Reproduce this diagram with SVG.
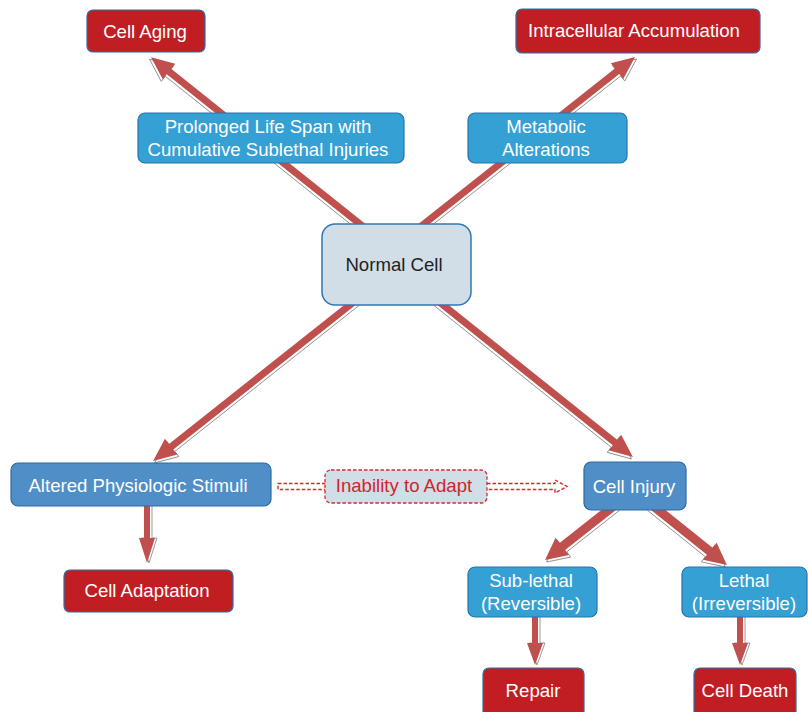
<svg xmlns="http://www.w3.org/2000/svg" xmlns:xlink="http://www.w3.org/1999/xlink" width="808" height="712" viewBox="0 0 808 712">
  <style>
    text { font-family: "Liberation Sans", Arial, sans-serif; font-size: 18.6px; text-anchor: middle; fill: #ffffff; }
    .red { fill: #c11e24; stroke: #2e6ea6; stroke-width: 1.2; }
    .cyan { fill: #35a0d3; stroke: #2674ad; stroke-width: 1.2; }
    .steel { fill: #4f8ec6; stroke: #2d6aa3; stroke-width: 1.2; }
    .pale { fill: #d1dee7; stroke: #2e78b5; stroke-width: 1.5; }
    .dark { fill: #222222; }
    .warn { fill: #d0262b; }
    .arrow { fill: #c0504d; }
    .sh { fill: #ffffff; stroke: #8f8f8f; stroke-width: 0.9; }
    .dash { fill: #ffffff; stroke: #d42a2f; stroke-width: 1.4; stroke-dasharray: 3.5 2; }
    .dashbox { fill: #d1dee7; stroke: #d42a2f; stroke-width: 1.3; stroke-dasharray: 3.5 2; }
  </style>
  <defs>
    <!-- block arrows laid out along +x, tip at x = length -->
    <path id="a1" d="M0,-3.5 H270 V-10 L293,0 L270,10 V3.5 H0 Z" transform="translate(380,240) rotate(218.6)"/>
    <path id="a2" d="M0,-3.5 H264 V-10 L287,0 L264,10 V3.5 H0 Z" transform="translate(410,235) rotate(-38.35)"/>
    <path id="a3" d="M0,-3.5 H241 V-10 L264,0 L241,10 V3.5 H0 Z" transform="translate(360,297) rotate(141.6)"/>
    <path id="a4" d="M0,-3.5 H233 V-10 L256,0 L233,10 V3.5 H0 Z" transform="translate(433,297) rotate(38.66)"/>
    <path id="a5" d="M0,-3 H38 V-8 L63,0 L38,8 V3 H0 Z" transform="translate(147,500) rotate(90)"/>
    <path id="a6" d="M0,-4.5 H67 V-11 L89,0 L67,11 V4.5 H0 Z" transform="translate(615,505) rotate(141.8)"/>
    <path id="a7" d="M0,-4.5 H74 V-11 L96,0 L74,11 V4.5 H0 Z" transform="translate(652,505) rotate(38.7)"/>
    <path id="a8" d="M0,-3 H31 V-8 L53,0 L31,8 V3 H0 Z" transform="translate(535,612) rotate(90)"/>
    <path id="a9" d="M0,-3 H31 V-8 L53,0 L31,8 V3 H0 Z" transform="translate(740,612) rotate(90)"/>
  </defs>

  <g id="connectors">
    <use xlink:href="#a1" class="sh" transform="translate(-1.5,2)"/>
    <use xlink:href="#a1" class="arrow"/>
    <use xlink:href="#a2" class="sh" transform="translate(1.5,2)"/>
    <use xlink:href="#a2" class="arrow"/>
    <use xlink:href="#a3" class="sh" transform="translate(1.5,2)"/>
    <use xlink:href="#a3" class="arrow"/>
    <use xlink:href="#a4" class="sh" transform="translate(-1.5,2)"/>
    <use xlink:href="#a4" class="arrow"/>
    <use xlink:href="#a5" class="sh" transform="translate(2,0)"/>
    <use xlink:href="#a5" class="arrow"/>
    <use xlink:href="#a6" class="sh" transform="translate(1.5,2)"/>
    <use xlink:href="#a6" class="arrow"/>
    <use xlink:href="#a7" class="sh" transform="translate(-1.5,2)"/>
    <use xlink:href="#a7" class="arrow"/>
    <use xlink:href="#a8" class="sh" transform="translate(2,0)"/>
    <use xlink:href="#a8" class="arrow"/>
    <use xlink:href="#a9" class="sh" transform="translate(2,0)"/>
    <use xlink:href="#a9" class="arrow"/>
    <!-- hollow dashed arrow: Altered Physiologic Stimuli to Cell Injury -->
    <path class="dash" d="M278,483.5 H555 V480 L567,486.5 L555,493 V489.5 H278 Z"/>
  </g>

  <g id="cell-aging">
    <rect class="red" x="87" y="10" width="118" height="42" rx="6"/>
    <text x="145" y="38">Cell Aging</text>
  </g>
  <g id="intracellular-accumulation">
    <rect class="red" x="516" y="9" width="244" height="44" rx="6"/>
    <text x="634" y="37">Intracellular Accumulation</text>
  </g>
  <g id="prolonged-life-span">
    <rect class="cyan" x="138" y="113" width="266" height="50" rx="7"/>
    <text x="268" y="133">Prolonged Life Span with</text>
    <text x="268" y="156">Cumulative Sublethal Injuries</text>
  </g>
  <g id="metabolic-alterations">
    <rect class="cyan" x="468" y="113" width="159" height="50" rx="7"/>
    <text x="546" y="133">Metabolic</text>
    <text x="546" y="156">Alterations</text>
  </g>
  <g id="normal-cell">
    <rect class="pale" x="322" y="224" width="149" height="81" rx="13"/>
    <text class="dark" x="394" y="271">Normal Cell</text>
  </g>
  <g id="altered-physiologic-stimuli">
    <rect class="steel" x="11" y="463" width="260" height="43" rx="7"/>
    <text x="138" y="492">Altered Physiologic Stimuli</text>
  </g>
  <g id="cell-adaptation">
    <rect class="red" x="64" y="570" width="169" height="42" rx="6"/>
    <text x="147" y="597">Cell Adaptation</text>
  </g>
  <g id="inability-to-adapt">
    <rect class="dashbox" x="325" y="470" width="162" height="33" rx="6"/>
    <text class="warn" x="404" y="492">Inability to Adapt</text>
  </g>
  <g id="cell-injury">
    <rect class="steel" x="584" y="462" width="102" height="48" rx="7"/>
    <text x="634" y="493">Cell Injury</text>
  </g>
  <g id="sub-lethal">
    <rect class="cyan" x="468" y="567" width="129" height="50" rx="7"/>
    <text x="531" y="587">Sub-lethal</text>
    <text x="531" y="610">(Reversible)</text>
  </g>
  <g id="lethal">
    <rect class="cyan" x="682" y="567" width="125" height="50" rx="7"/>
    <text x="744" y="587">Lethal</text>
    <text x="744" y="610">(Irreversible)</text>
  </g>
  <g id="repair">
    <rect class="red" x="483" y="668" width="101" height="52" rx="6"/>
    <text x="533" y="697">Repair</text>
  </g>
  <g id="cell-death">
    <rect class="red" x="694" y="668" width="102" height="52" rx="6"/>
    <text x="745" y="697">Cell Death</text>
  </g>
</svg>
